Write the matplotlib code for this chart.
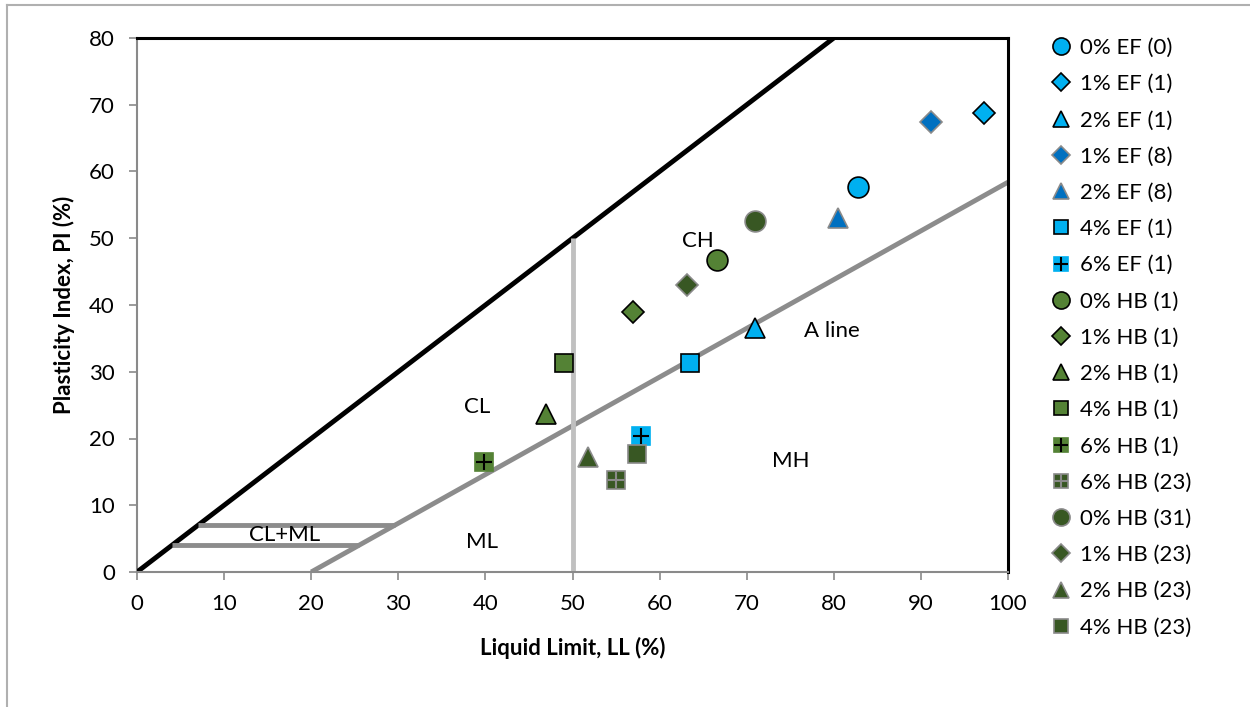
import matplotlib
matplotlib.use("Agg")
import matplotlib.pyplot as plt
from matplotlib.lines import Line2D
from matplotlib.legend_handler import HandlerTuple

plt.rcParams['font.family'] = ['Lato', 'DejaVu Sans']

# ---- data ----
labels = ["0% EF (0)", "1% EF (1)", "2% EF (1)", "1% EF (8)", "2% EF (8)",
          "4% EF (1)", "6% EF (1)", "0% HB (1)", "1% HB (1)", "2% HB (1)",
          "4% HB (1)", "6% HB (1)", "6% HB (23)", "0% HB (31)", "1% HB (23)",
          "2% HB (23)", "4% HB (23)"]
ll = [82.8, 97.2, 71.0, 91.2, 80.5, 63.5, 57.9, 66.6, 56.9, 47.0, 49.0, 39.8,
      55.0, 71.0, 63.1, 51.8, 57.4]
pi = [57.7, 68.8, 36.5, 67.4, 53.0, 31.3, 20.3, 46.7, 39.0, 23.7, 31.3, 16.5,
      13.8, 52.6, 43.0, 17.2, 17.7]
markers = ["o", "D", "^", "D", "^", "s", "s", "o", "D", "^", "s", "s", "s",
           "o", "D", "^", "s"]
LB, DB, G, DG = "#00B0F0", "#0070C0", "#548235", "#385723"
faces = [LB, LB, LB, DB, DB, LB, LB, G, G, G, G, G, DG, DG, DG, DG, DG]
edges = ["black", "black", "black", "#8a8a8a", "#8a8a8a", "black", LB,
         "black", "black", "black", "black", G, "#8a8a8a", "#8a8a8a",
         "#8a8a8a", "#8a8a8a", "#8a8a8a"]
plus = [None] * 6 + ["black"] + [None] * 4 + ["black", "#8a8a8a"] + [None] * 4
sizes = {"o": 15, "D": 11, "^": 14, "s": 13}

# reference lines
u_x, u_y = [0, 80], [0, 80]
a_x, a_y = [20, 100], [0, 58.4]
cl_ml_hi_x, cl_ml_hi_y = [7, 29.6], [7, 7]
cl_ml_lo_x, cl_ml_lo_y = [4, 25.5], [4, 4]
v50_x, v50_y = [50, 50], [0, 50]

zone_text = [("CH", 64.4, 49.6), ("CL", 39.0, 24.7), ("A line", 79.8, 36.1),
             ("MH", 75.0, 16.6), ("ML", 39.6, 4.5), ("CL+ML", 16.9, 5.5)]

FS = 16

fig = plt.figure(figsize=(12.5, 7.07), dpi=100)
ax = fig.add_axes([137 / 1250, 1 - 572 / 707, 871 / 1250, 534 / 707])

ax.plot(u_x, u_y, color="black", lw=3.5, solid_capstyle="butt", zorder=2)
ax.plot(a_x, a_y, color="#8c8c8c", lw=3.5, solid_capstyle="butt", zorder=2)
ax.plot(cl_ml_hi_x, cl_ml_hi_y, color="#8c8c8c", lw=3.5, solid_capstyle="butt", zorder=2)
ax.plot(cl_ml_lo_x, cl_ml_lo_y, color="#8c8c8c", lw=3.5, solid_capstyle="butt", zorder=2)
ax.plot(v50_x, v50_y, color="#c0c0c0", lw=3.5, solid_capstyle="butt", zorder=2)

handles = []
for i in range(len(labels)):
    m = markers[i]
    ms = sizes[m]
    h = ax.plot(ll[i], pi[i], ls="none", marker=m, ms=ms, mfc=faces[i],
                mec=edges[i], mew=1.2, zorder=4)[0]
    if plus[i] is not None:
        hp = ax.plot(ll[i], pi[i], ls="none", marker="+", ms=ms - 1,
                     mec=plus[i], mew=1.5, zorder=5)[0]
        handles.append((h, hp))
    else:
        handles.append(h)

for t, x, y in zone_text:
    ax.text(x, y, t, fontsize=FS, ha="center", va="center", zorder=3)

ax.set_xlim(0, 100)
ax.set_ylim(0, 80)
ax.set_xticks(range(0, 101, 10))
ax.set_yticks(range(0, 81, 10))
ax.tick_params(direction="out", length=6, width=1.2, color="#8a8a8a",
               labelsize=FS)
ax.tick_params(axis="x", pad=10)
ax.tick_params(axis="y", pad=10)
for s in ["top", "right"]:
    ax.spines[s].set_color("black")
    ax.spines[s].set_linewidth(2.2)
for s in ["left", "bottom"]:
    ax.spines[s].set_color("#8a8a8a")
    ax.spines[s].set_linewidth(1.5)
ax.spines["left"].set_zorder(1)

ax.set_xlabel("Liquid Limit, LL (%)", fontsize=FS, fontweight="bold", labelpad=16)
ax.set_ylabel("Plasticity Index, PI (%)", fontsize=FS, fontweight="bold", labelpad=10)

leg = fig.legend(handles, labels, loc="upper left",
                 bbox_to_anchor=(1050 / 1250, 1 - 38 / 707),
                 frameon=False, fontsize=FS, handlelength=1.0, handletextpad=0.35,
                 labelspacing=0.73, borderaxespad=0, borderpad=0, markerscale=0.82,
                 handler_map={tuple: HandlerTuple(ndivide=1)})

# chart-area border (left and top)
fig.add_artist(Line2D([7 / 1250, 7 / 1250], [0, 1 - 5 / 707], transform=fig.transFigure,
                      color="#b0b0b0", lw=1.5))
fig.add_artist(Line2D([7 / 1250, 1], [1 - 5 / 707, 1 - 5 / 707], transform=fig.transFigure,
                      color="#b0b0b0", lw=1.5))

fig.savefig("out.png", dpi=100)
